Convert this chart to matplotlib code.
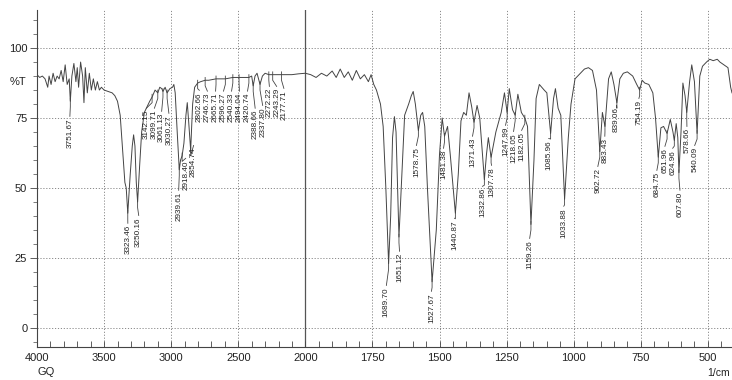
import numpy as np
import matplotlib
matplotlib.use("Agg")
import matplotlib.pyplot as plt
from matplotlib.ticker import FixedLocator, NullFormatter

# ---------------- data ----------------
wavenumber = [4000, 3980, 3960, 3940, 3920, 3910, 3895, 3880, 3865, 3850, 3835, 3820, 3805, 3790,
              3775, 3760, 3751.67, 3740, 3725, 3710, 3700, 3690, 3675, 3660, 3650, 3640, 3625,
              3610, 3595, 3580, 3565, 3550, 3535, 3520, 3500, 3470, 3440, 3420, 3400, 3380, 3360,
              3345, 3335, 3323.46, 3305, 3290, 3280, 3270, 3260, 3250.16, 3235, 3220, 3200, 3180,
              3160, 3142.15, 3120, 3099.71, 3085, 3070, 3061.13, 3045, 3030.27, 3010, 2990, 2980,
              2970, 2955, 2939.61, 2930, 2918.40, 2905, 2890, 2880, 2870, 2854.74, 2840, 2825,
              2802.66, 2780, 2746.73, 2720, 2665.71, 2620, 2596.27, 2540.33, 2494.04, 2460,
              2420.74, 2400, 2388.66, 2375, 2360, 2337.80, 2320, 2300, 2272.22, 2243.29, 2200,
              2177.71, 2100, 2050, 2000,
              1980, 1960, 1940, 1920, 1900, 1885, 1870, 1855, 1840, 1825, 1810, 1795, 1780, 1765,
              1755, 1745, 1735, 1720, 1710, 1700, 1689.70, 1682, 1675, 1668, 1662, 1651.12, 1640,
              1630, 1615, 1605, 1598, 1590, 1578.75, 1570, 1563, 1555, 1545, 1527.67, 1512, 1500,
              1490, 1481.38, 1470, 1460, 1440.87, 1430, 1420, 1410, 1400, 1390, 1380, 1371.43,
              1360, 1350, 1332.86, 1325, 1318, 1307.78, 1290, 1270, 1258, 1247.99, 1240, 1228,
              1218.05, 1208, 1195, 1182.05, 1172, 1159.26, 1148, 1140, 1128, 1110, 1100, 1085.96,
              1075, 1068, 1058, 1048, 1033.88, 1020, 1010, 995, 980, 960, 945, 930, 915, 902.72,
              893, 883.43, 870, 860, 850, 839.06, 828, 815, 800, 780, 765, 754.19, 745, 735, 720,
              705, 695, 684.75, 675, 665, 651.96, 640, 630, 624.96, 618, 612, 607.80, 600, 593,
              585, 578.66, 568, 560, 550, 540.09, 530, 520, 505, 493, 480, 465, 455, 440, 425,
              415, 410]
transmittance = [90.5, 89.5, 90, 89, 86, 90, 87, 91, 88, 90, 89, 92, 88, 94,
                 87, 89, 81, 90, 94.5, 88, 93, 86, 95, 90, 80.5, 93, 84,
                 91, 85, 89, 85, 88, 85, 86, 85, 84.5, 84, 83, 81, 76, 62,
                 52, 50, 41, 55, 65, 69, 65, 52, 45, 58, 70, 77, 79,
                 81, 82.5, 85, 84, 86, 85.5, 84.5, 86, 84, 85.5, 86, 87,
                 84, 70, 56.5, 60, 61.5, 66, 76, 80.5, 74, 63.5, 80, 86,
                 87.5, 88, 88.5, 88.5, 89, 89, 89, 89.5, 89.5, 89.5,
                 89.5, 90, 86.5, 90, 91, 87, 90, 91, 90.5, 90.5, 90.5,
                 90.5, 90.5, 90.8, 91,
                 90.5, 89.5, 91, 90, 91.8, 89.5, 92.5, 89.5, 91.5, 88.5, 92, 89, 90.5, 88,
                 90.5, 87, 85, 80, 72, 50, 23, 40, 68, 75.5, 70, 32.5, 55,
                 76, 80, 83, 84.5, 80, 70.5, 76, 77, 72, 50, 16.5, 35, 62,
                 75, 68.5, 72, 62, 41, 55, 74, 77, 76, 84, 79, 73.5,
                 79.5, 75, 53, 62, 68, 61, 70, 77, 84, 77, 85.5, 78,
                 76, 83.5, 77, 75, 72, 37, 60, 82, 87, 85, 84, 69.5,
                 82, 85.5, 78.5, 76, 46, 68, 80, 89, 90.5, 92.5, 93, 92, 85, 63,
                 77, 72, 89, 91.5, 87, 80.5, 89, 91, 91.5, 90, 87, 85, 88.5, 87.5, 87,
                 84, 75, 61, 71.5, 72, 69.5, 74.5, 70, 67, 73, 68, 55.5, 70, 87.5,
                 83, 77, 88, 94, 88, 69.5, 90, 93.5, 95, 96, 95.5, 96, 95, 94, 93,
                 86, 84]

peak_labels = ["3751.67", "3323.46", "3250.16", "3142.15", "3099.71", "3061.13", "3030.27",
               "2939.61", "2918.40", "2854.74", "2802.66", "2746.73", "2665.71", "2596.27",
               "2540.33", "2494.04", "2420.74", "2388.66", "2337.80", "2272.22", "2243.29",
               "2177.71", "1689.70", "1651.12", "1578.75", "1527.67", "1481.38", "1440.87",
               "1371.43", "1332.86", "1307.78", "1247.99", "1218.05", "1182.05", "1159.26",
               "1085.96", "1033.88", "902.72", "883.43", "839.06", "754.19", "684.75",
               "651.96", "624.96", "607.80", "578.66", "540.09"]
peak_T = [81, 41, 45, 82.5, 84, 84.5, 84, 56.5, 61.5, 63.5, 87.5, 88.5, 89, 89,
          89.5, 89.5, 89.5, 86.5, 87, 90.5, 90.5, 90.5, 23, 32.5, 70.5, 16.5, 68.5, 41,
          73.5, 53, 61, 77, 76, 75, 37, 69.5, 46, 63, 72, 80.5, 85, 61,
          69.5, 67, 55.5, 77, 69.5]

# label layout (text centre wavenumber, text top %T)
label_x = [3755, 3323, 3242, 3185, 3125, 3071, 3017, 2944, 2892, 2833, 2790, 2730, 2669, 2610,
           2550, 2491, 2431, 2374, 2318, 2268, 2214, 2160, 1698, 1649, 1586, 1530, 1485, 1444,
           1377, 1340, 1306, 1254, 1224, 1194, 1164, 1093, 1037, 910, 884, 840, 757, 690,
           660, 631, 604, 578, 549]
label_top = [75, 36.8, 39.6, 77.9, 77.9, 76.8, 76.1, 48.6, 60, 64.6, 84.3, 84, 84, 84,
             84, 84, 84, 77.9, 78.9, 85.7, 85.7, 85.0, 14.6, 26.8, 64.6, 12.5, 63.6, 38.6,
             67.9, 50, 57.5, 71.8, 69.6, 70, 31.4, 67.1, 42.9, 57.1, 67.9, 78.9, 81.4, 55.7,
             64.3, 63.6, 48.6, 71.4, 64.6]

x_major = [4000, 3500, 3000, 2500, 2000, 1750, 1500, 1250, 1000, 750, 500]
y_major = [0, 25, 50, 75, 100]

# ---------------- scale ----------------
def fwd(x):
    x = np.asarray(x, dtype=float)
    return np.where(x >= 2000, x, 2 * x - 2000)

def inv(y):
    y = np.asarray(y, dtype=float)
    return np.where(y >= 2000, y, (y + 2000) / 2)

plt.rcParams['font.family'] = ['Liberation Sans', 'DejaVu Sans']

fig = plt.figure(figsize=(7.32, 3.80), dpi=100)
ax = fig.add_axes([37 / 732, 1 - 347 / 380, 1 - 37 / 732, (347 - 10) / 380])
ax.set_xscale('function', functions=(fwd, inv))
ax.set_xlim(4000, 410)
ax.set_ylim(-6.8, 113.6)

grid_col = '#8a8a8a'
for yv in y_major:
    ax.axhline(yv, color=grid_col, lw=0.7, ls=(0, (1.2, 1.8)), zorder=0)
for xv in [3500, 3000, 2500, 1750, 1500, 1250, 1000, 750, 500]:
    ax.axvline(xv, color=grid_col, lw=0.7, ls=(0, (1.2, 1.8)), zorder=0)
ax.axvline(2000, color='#555555', lw=0.9, zorder=0)

ax.plot(wavenumber, transmittance, color='#444444', lw=0.7, zorder=3)

# peak labels
pk_w = [float(s) for s in peak_labels]
for lab, pw, pt, tx, tt in zip(peak_labels, pk_w, peak_T, label_x, label_top):
    ax.plot([pw, pw, tx], [pt + 1.0, pt - 2.0, tt + 0.6], color='#444444', lw=0.6, zorder=4)
    ax.text(tx, tt, lab, rotation=90, ha='center', va='top', fontsize=5.9,
            color='#222222', zorder=5)

# axes styling
for s in ['top', 'right']:
    ax.spines[s].set_visible(False)
ax.spines['left'].set_color('#444444')
ax.spines['bottom'].set_color('#444444')
ax.spines['left'].set_linewidth(0.8)
ax.spines['bottom'].set_linewidth(0.8)

ax.xaxis.set_major_locator(FixedLocator(x_major))
ax.set_xticklabels([str(v) for v in x_major])
minor_x = list(range(3900, 2000, -100)) + list(range(1950, 400, -50))
ax.xaxis.set_minor_locator(FixedLocator(minor_x))
ax.xaxis.set_minor_formatter(NullFormatter())
ax.tick_params(axis='x', which='both', direction='in', length=4, width=0.6,
               colors='#444444', labelsize=8, labelcolor='#222222', pad=4)

ax.yaxis.set_major_locator(FixedLocator(y_major))
ax.set_yticklabels([str(v) for v in y_major])
ax.yaxis.set_minor_locator(FixedLocator(list(range(-5, 115, 5))))
ax.yaxis.set_minor_formatter(NullFormatter())
ax.tick_params(axis='y', which='major', direction='out', length=5, width=0.6,
               colors='#444444', labelsize=8, labelcolor='#222222', pad=2)
ax.tick_params(axis='y', which='minor', direction='out', length=3, width=0.6,
               colors='#666666')

fig.text(10 / 732, 1 - 82 / 380, '%T', fontsize=8, color='#222222', va='center', ha='left')
fig.text(38 / 732, 1 - 372 / 380, 'GQ', fontsize=8, color='#222222', va='center', ha='left')
fig.text(730 / 732, 1 - 373 / 380, '1/cm', fontsize=7.5, color='#222222', va='center', ha='right')

fig.savefig('out.png', dpi=100, facecolor='white')
